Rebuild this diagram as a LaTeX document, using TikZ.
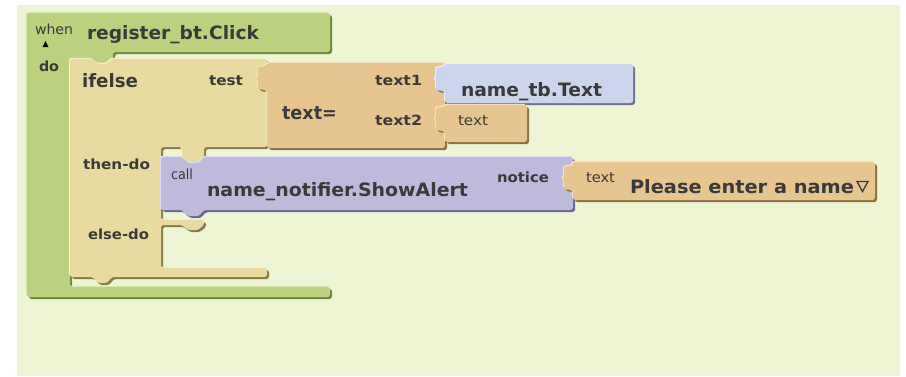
\documentclass[tikz,border=0pt]{standalone}
\usepackage{fontspec}
\setmainfont{DejaVu Sans}
\usepackage{graphicx}

\definecolor{canvas}{HTML}{EDF5D5}
\definecolor{txt}{HTML}{3A3A3A}
\definecolor{evtmain}{HTML}{BCD17F}
\definecolor{evtdark}{HTML}{6F8A3C}
\definecolor{evtlight}{HTML}{D9E9AA}
\definecolor{ctlmain}{HTML}{E9DAA2}
\definecolor{ctldark}{HTML}{8A7A45}
\definecolor{ctllight}{HTML}{F7EFCC}
\definecolor{strmain}{HTML}{E6C591}
\definecolor{strdark}{HTML}{8D6F42}
\definecolor{strlight}{HTML}{F6E2C0}
\definecolor{compmain}{HTML}{CDD5EC}
\definecolor{compdark}{HTML}{6F7590}
\definecolor{complight}{HTML}{E8EDF9}
\definecolor{callmain}{HTML}{BEBADC}
\definecolor{calldark}{HTML}{6A6690}
\definecolor{calllight}{HTML}{DFDDF1}

\tikzset{
  lbl/.style={anchor=base west, inner sep=0pt, outer sep=0pt, text=txt},
}

% brace-shaped value plug on the left edge of a block, from (#1,#2) downwards
\newcommand\puzzletab[2]{.. controls (#1-5,#2) and (#1-9,#2+1) .. (#1-9,#2+5) -- (#1-9,#2+8) .. controls (#1-9,#2+10) and (#1-10,#2+12) .. (#1-12,#2+12.5) .. controls (#1-10,#2+13) and (#1-9,#2+15) .. (#1-9,#2+17) -- (#1-9,#2+19) .. controls (#1-9,#2+23) and (#1-5,#2+24) .. (#1,#2+24)}

% bevelled block: #1 fill, #2 shadow, #3 highlight, #4 outline path
\newcommand\bevelblock[4]{%
  \fill[#2, rounded corners=2.5pt, shift={(2,2)}] #4;
  \fill[#3, rounded corners=2.5pt, shift={(-1.2,-1.2)}] #4;
  \fill[#1, rounded corners=2.5pt] #4;
}

% text label: name, x, baseline, width, size, text
\newcommand\blabel[6]{\node[lbl] (#1) at (#2,#3) {\resizebox{#4pt}{\height}{\fontsize{#5}{#5}\selectfont #6}};}

\begin{document}
\begin{tikzpicture}[x=1pt, y=-1pt]
\useasboundingbox (0,0) rectangle (906,376);
\fill[white] (0,0) rectangle (906,376);
\fill[canvas] (17,5) rectangle (900,376);

% event handler
\bevelblock{evtmain}{evtdark}{evtlight}{(27,13) -- (330,13) -- (330,52) -- (113,52) -- (113,66) -- (70,66) -- (70,287) -- (330,287) -- (330,297) -- (27,297) -- cycle}

% ifelse
\bevelblock{ctlmain}{ctldark}{ctllight}{(70,59) -- (93,59) -- (98,64) -- (107,64) -- (112,59) -- (267,59) -- (267,147) -- (204,147) -- (204,157) -- (199,163) -- (188,163) -- (182,157) -- (182,147) -- (161,147) -- (161,220) -- (204,220) -- (204,225) -- (198,230) -- (188,230) -- (182,225) -- (161,225) -- (161,268) -- (267,268) -- (267,277) -- (112,277) -- (107,283) -- (98,283) -- (93,277) -- (70,277) -- cycle}

% text= comparison
\bevelblock{strmain}{strdark}{strlight}{(267,63) -- (267,66) \puzzletab{267}{66} -- (267,148) -- (445,148) -- (445,63) -- cycle}

% name_tb.Text getter
\bevelblock{compmain}{compdark}{complight}{(445,64) -- (445,67) \puzzletab{445}{67} -- (445,103) -- (633,103) -- (633,64) -- cycle}

% empty text literal
\bevelblock{strmain}{strdark}{strlight}{(445,105) -- (445,107) \puzzletab{445}{107} -- (445,142) -- (527,142) -- (527,105) -- cycle}

% ShowAlert call
\bevelblock{callmain}{calldark}{calllight}{(161,157) -- (182,157) -- (188,163) -- (199,163) -- (204,157) -- (573,157) -- (573,210) -- (204,210) -- (199,216) -- (188,216) -- (182,210) -- (161,210) -- cycle}

% message text literal
\bevelblock{strmain}{strdark}{strlight}{(573,162) -- (573,166) \puzzletab{573}{166} -- (573,200) -- (875,200) -- (875,162) -- cycle}

% labels
\blabel{when}{35}{34}{38}{14}{when}
\blabel{evt}{87}{39}{172}{18.4}{\bfseries register\_bt.Click}
\blabel{do}{39}{71}{20}{14}{\bfseries do}
\blabel{ifelse}{82}{87}{56}{18.4}{\bfseries ifelse}
\blabel{test}{209}{85}{34}{14}{\bfseries test}
\blabel{texteq}{282}{119}{55}{18.4}{\bfseries text=}
\blabel{textone}{375}{85}{47}{14}{\bfseries text1}
\blabel{texttwo}{375}{125}{47}{14}{\bfseries text2}
\blabel{nametb}{461}{96}{141}{18.4}{\bfseries name\_tb.Text}
\blabel{emptytext}{458}{125}{30}{14}{text}
\blabel{thendo}{83}{169}{67}{14}{\bfseries then-do}
\blabel{elsedo}{88}{239}{61}{14}{\bfseries else-do}
\blabel{call}{171}{179}{22}{14}{call}
\blabel{showalert}{207}{196}{261}{18.4}{\bfseries name\_notifier.ShowAlert}
\blabel{notice}{497}{182}{52}{14}{\bfseries notice}
\blabel{msgtext}{586}{182}{29}{14}{text}
\blabel{msg}{630}{193}{224}{18.4}{\bfseries Please enter a name}

% collapse marker and dropdown arrow
\fill[black] (42.5,47) -- (48.5,47) -- (45.5,41) -- cycle;
\draw[txt, line width=1.3pt, line join=miter] (857,181.5) -- (868,181.5) -- (862.5,191.5) -- cycle;
\end{tikzpicture}
\end{document}
